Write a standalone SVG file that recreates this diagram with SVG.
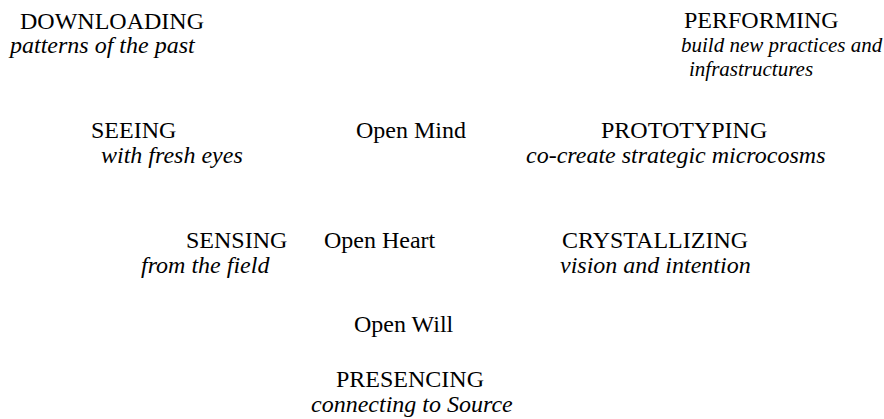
<svg xmlns="http://www.w3.org/2000/svg" width="884" height="419" viewBox="0 0 884 419">
<style>
text{font-family:"Liberation Serif","Times New Roman",serif;font-size:24px;fill:#000}
.i{font-style:italic}
.s{font-size:21px}
</style>
<rect width="884" height="419" fill="#fff"/>
<g id="connectors"/>
<g id="downloading">
<text x="20" y="29">DOWNLOADING</text>
<text class="i" x="10" y="53">patterns of the past</text>
</g>
<g id="performing">
<text x="684" y="28">PERFORMING</text>
<text class="i s" x="681" y="52">build new practices and</text>
<text class="i s" x="689" y="76">infrastructures</text>
</g>
<g id="seeing">
<text x="91" y="138">SEEING</text>
<text class="i" x="101" y="163">with fresh eyes</text>
</g>
<g id="open-mind">
<text x="356" y="138">Open Mind</text>
</g>
<g id="prototyping">
<text x="601" y="138">PROTOTYPING</text>
<text class="i" x="526" y="163">co-create strategic microcosms</text>
</g>
<g id="sensing">
<text x="186" y="248">SENSING</text>
<text class="i" x="141" y="273">from the field</text>
</g>
<g id="open-heart">
<text x="324" y="248">Open Heart</text>
</g>
<g id="crystallizing">
<text x="562" y="248">CRYSTALLIZING</text>
<text class="i" x="560" y="273">vision and intention</text>
</g>
<g id="open-will">
<text x="354" y="332">Open Will</text>
</g>
<g id="presencing">
<text x="336" y="387">PRESENCING</text>
<text class="i" x="311" y="412">connecting to Source</text>
</g>
</svg>
